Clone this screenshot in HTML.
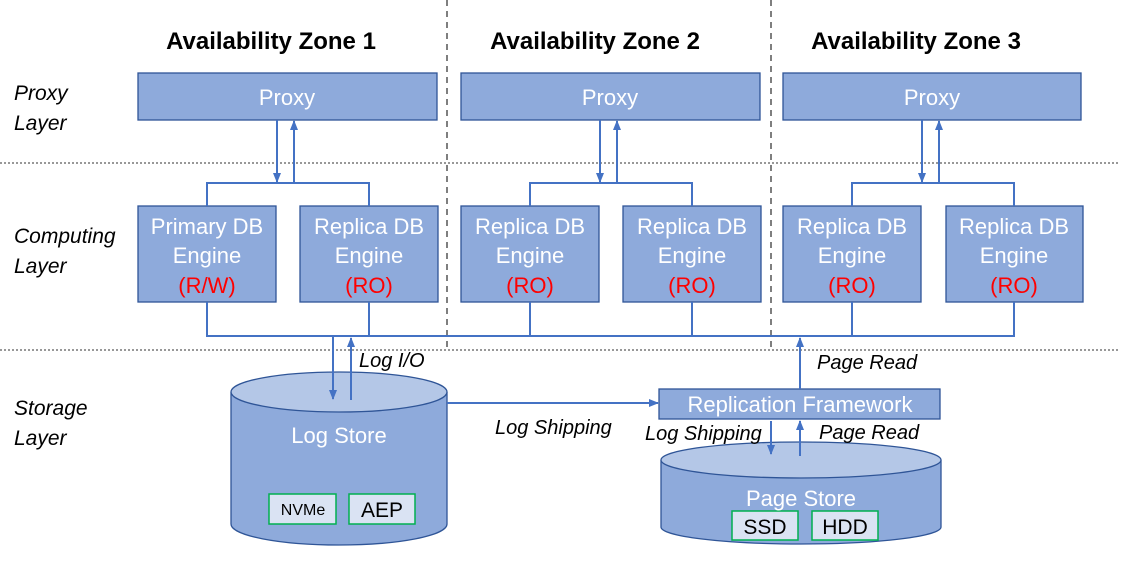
<!DOCTYPE html>
<html><head><style>
body{margin:0;background:#fff;}
svg text{font-family:"Liberation Sans",sans-serif;}
</style></head><body>
<svg width="1134" height="572" viewBox="0 0 1134 572" xmlns="http://www.w3.org/2000/svg">
<defs>
<marker id="a" markerWidth="10" markerHeight="10" refX="9" refY="5" orient="auto" markerUnits="userSpaceOnUse"><path d="M0,1 L10,5 L0,9z" fill="#4472c4"/></marker>
</defs>
<g stroke="#555" stroke-width="1.5" stroke-dasharray="6,5"><line x1="447" y1="0" x2="447" y2="350"/><line x1="771" y1="0" x2="771" y2="350"/></g>
<g stroke="#777" stroke-width="1.5" stroke-dasharray="2,2"><line x1="0" y1="163" x2="1120" y2="163"/><line x1="0" y1="350" x2="1120" y2="350"/></g>
<g font-weight="bold" font-size="24" text-anchor="middle" fill="#000">
<text x="271" y="49">Availability Zone 1</text><text x="595" y="49">Availability Zone 2</text><text x="916" y="49">Availability Zone 3</text></g>
<g font-style="italic" font-size="21" fill="#000">
<text x="14" y="100">Proxy</text><text x="14" y="130">Layer</text>
<text x="14" y="243">Computing</text><text x="14" y="273">Layer</text>
<text x="14" y="415">Storage</text><text x="14" y="445">Layer</text></g>
<g fill="#8eaadb" stroke="#2f5597" stroke-width="1.3">
<rect x="138" y="73" width="299" height="47"/><rect x="461" y="73" width="299" height="47"/><rect x="783" y="73" width="298" height="47"/>
<rect x="138" y="206" width="138" height="96"/><rect x="300" y="206" width="138" height="96"/>
<rect x="461" y="206" width="138" height="96"/><rect x="623" y="206" width="138" height="96"/>
<rect x="783" y="206" width="138" height="96"/><rect x="946" y="206" width="137" height="96"/>
</g>
<g fill="#fff" font-size="22" text-anchor="middle">
<text x="287" y="105">Proxy</text><text x="610" y="105">Proxy</text><text x="932" y="105">Proxy</text>
<text x="207" y="234">Primary DB</text><text x="207" y="263">Engine</text>
<text x="369" y="234">Replica DB</text><text x="369" y="263">Engine</text>
<text x="530" y="234">Replica DB</text><text x="530" y="263">Engine</text>
<text x="692" y="234">Replica DB</text><text x="692" y="263">Engine</text>
<text x="852" y="234">Replica DB</text><text x="852" y="263">Engine</text>
<text x="1014" y="234">Replica DB</text><text x="1014" y="263">Engine</text>
</g>
<g fill="#ff0000" font-size="22" text-anchor="middle">
<text x="207" y="293">(R/W)</text><text x="369" y="293">(RO)</text><text x="530" y="293">(RO)</text><text x="692" y="293">(RO)</text><text x="852" y="293">(RO)</text><text x="1014" y="293">(RO)</text></g>
<g stroke="#4472c4" stroke-width="2" fill="none">
<path d="M207,206 V183 H369 V206"/><path d="M530,206 V183 H692 V206"/><path d="M852,206 V183 H1014 V206"/>
<line x1="277" y1="120" x2="277" y2="182" marker-end="url(#a)"/><line x1="294" y1="183" x2="294" y2="121" marker-end="url(#a)"/>
<line x1="600" y1="120" x2="600" y2="182" marker-end="url(#a)"/><line x1="617" y1="183" x2="617" y2="121" marker-end="url(#a)"/>
<line x1="922" y1="120" x2="922" y2="182" marker-end="url(#a)"/><line x1="939" y1="183" x2="939" y2="121" marker-end="url(#a)"/>
<path d="M207,302 V336 H1014 V302"/>
<line x1="369" y1="302" x2="369" y2="336"/><line x1="530" y1="302" x2="530" y2="336"/><line x1="692" y1="302" x2="692" y2="336"/><line x1="852" y1="302" x2="852" y2="336"/>
</g>
<g stroke="#2f5597" stroke-width="1.3">
<path d="M231,392 V524 A108,21 0 0 0 447,524 V392" fill="#8eaadb"/>
<ellipse cx="339" cy="392" rx="108" ry="20" fill="#b4c7e7"/>
<path d="M661,460 V527 A140,17 0 0 0 941,527 V460" fill="#8eaadb"/>
<ellipse cx="801" cy="460" rx="140" ry="18" fill="#b4c7e7"/>
<rect x="659" y="389" width="281" height="30" fill="#8eaadb"/>
</g>
<g fill="#dae3f3" stroke="#00b050" stroke-width="1.5">
<rect x="269" y="494" width="67" height="30"/><rect x="349" y="494" width="66" height="30"/>
<rect x="732" y="511" width="66" height="29"/><rect x="812" y="511" width="66" height="29"/></g>
<g font-size="22" text-anchor="middle" fill="#fff">
<text x="339" y="443">Log Store</text><text x="801" y="506">Page Store</text><text x="800" y="412">Replication Framework</text></g>
<g text-anchor="middle" fill="#000"><text x="303" y="515" font-size="16">NVMe</text><text x="382" y="517" font-size="21">AEP</text>
<text x="765" y="534" font-size="21">SSD</text><text x="845" y="534" font-size="21">HDD</text></g>
<g stroke="#4472c4" stroke-width="2" fill="none">
<line x1="333" y1="336" x2="333" y2="399" marker-end="url(#a)"/><line x1="351" y1="400" x2="351" y2="338" marker-end="url(#a)"/>
<line x1="447" y1="403" x2="658" y2="403" marker-end="url(#a)"/>
<line x1="800" y1="389" x2="800" y2="338" marker-end="url(#a)"/>
<line x1="771" y1="421" x2="771" y2="454" marker-end="url(#a)"/><line x1="800" y1="456" x2="800" y2="421" marker-end="url(#a)"/>
</g>
<g font-style="italic" font-size="20" fill="#000">
<text x="359" y="367">Log I/O</text><text x="495" y="434">Log Shipping</text>
<text x="817" y="369">Page Read</text><text x="645" y="440">Log Shipping</text><text x="819" y="439">Page Read</text></g>
</svg>
</body></html>
